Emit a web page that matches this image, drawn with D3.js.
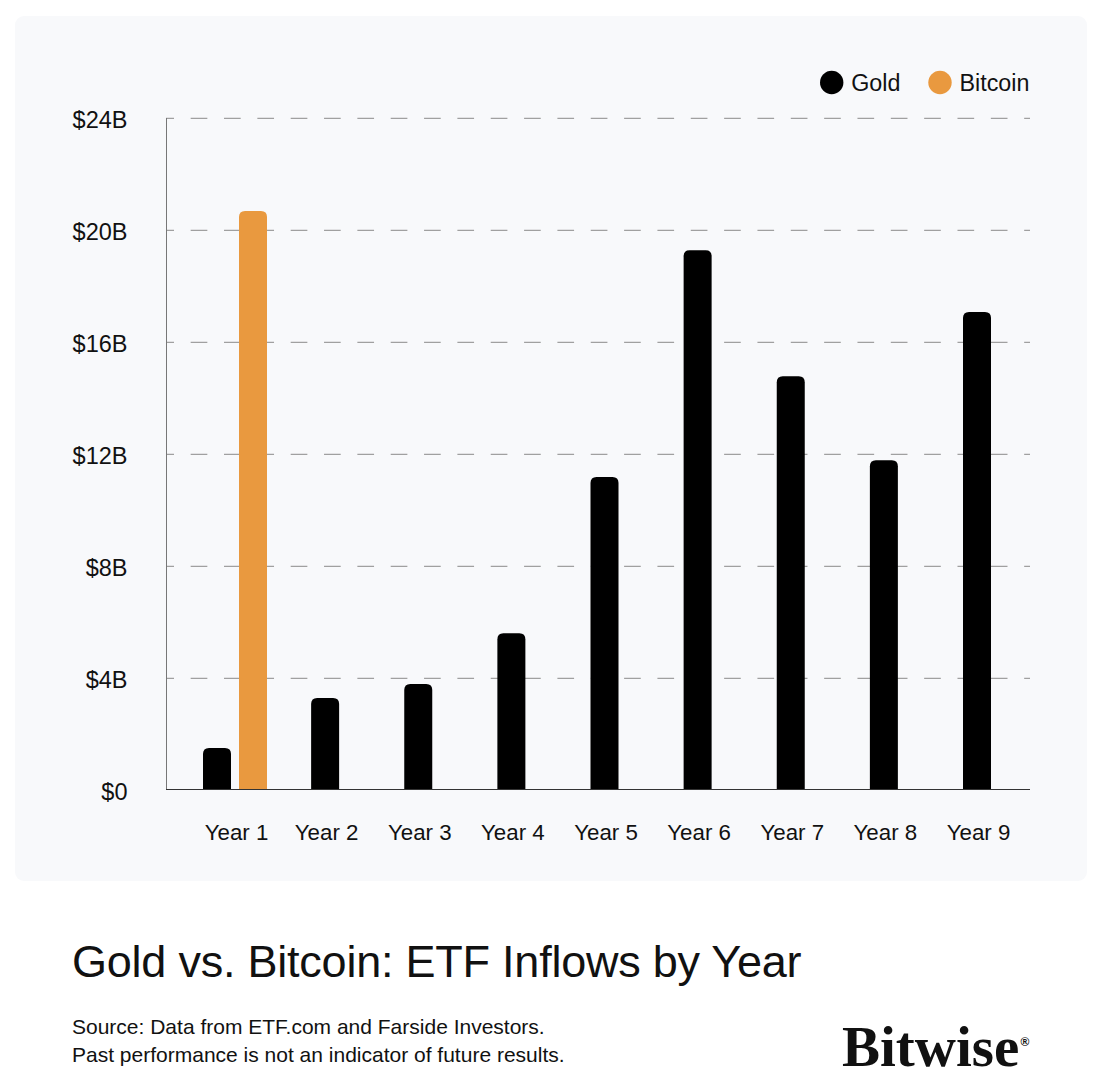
<!DOCTYPE html>
<html><head><meta charset="utf-8">
<script src="https://cdn.jsdelivr.net/npm/d3@7"></script>
<style>html,body{margin:0;padding:0;background:#fff}svg{display:block}text{font-family:"Liberation Sans",Arial,sans-serif;fill:#111}</style>
</head><body><svg id="c" width="1098" height="1086"></svg>
<script>
const categories=["Year 1","Year 2","Year 3","Year 4","Year 5","Year 6","Year 7","Year 8","Year 9"];
const goldValues=[1.5,3.29,3.79,5.6,11.18,19.28,14.78,11.78,17.07];
const bitcoinValues=[20.68,null,null,null,null,null,null,null,null];
const yTicks=[0,4,8,12,16,20,24];
const legendItems=["Gold","Bitcoin"];
const titleText="Gold vs. Bitcoin: ETF Inflows by Year";
const sourceLines=["Source: Data from ETF.com and Farside Investors.","Past performance is not an indicator of future results."];

const GOLD="#000",BTC="#E9993F",barW=28;
const svg=d3.select("#c");
svg.append("rect").attr("x",15).attr("y",16).attr("width",1072).attr("height",865).attr("rx",9).attr("fill","#F8F9FB");
const y=d3.scaleLinear().domain([0,24]).range([790,118]);
const x=d3.scalePoint().domain(categories).range([232,977]);
const x0=166,x1=1030;

// grid
svg.append("g").selectAll("line").data(yTicks.filter(d=>d>0)).join("line")
 .attr("x1",x0).attr("x2",x1).attr("y1",d=>y(d)+.3).attr("y2",d=>y(d)+.3)
 .attr("stroke","#A0A0A0").attr("stroke-width",1.2)
 .attr("stroke-dasharray","16.67 16.67").attr("stroke-dashoffset",8.67);

// y tick labels
svg.append("g").selectAll("text").data(yTicks).join("text")
 .attr("x",127.5).attr("y",d=>y(d)+9.5).attr("text-anchor","end").attr("font-size",23.5).text(d=>d===0?"$0":"$"+d+"B");

// bars: rounded top, square base
function barPath(cx,v){
 const t=y(v),b=y(0),l=cx-barW/2,r=cx+barW/2,k=6;
 return `M${l},${b}V${t+k}Q${l},${t} ${l+k},${t}H${r-k}Q${r},${t} ${r},${t+k}V${b}Z`;
}
const rows=categories.map((c,i)=>({c,g:goldValues[i],b:bitcoinValues[i]}));
const pairGap=18, pairNudge=3;
svg.append("g").selectAll("path.g").data(rows).join("path").attr("class","g").attr("fill",GOLD)
 .attr("d",d=>barPath(d.b!=null?x(d.c)+pairNudge-pairGap:x(d.c),d.g));
svg.append("g").selectAll("path.b").data(rows.filter(d=>d.b!=null)).join("path").attr("class","b").attr("fill",BTC)
 .attr("d",d=>barPath(x(d.c)+pairNudge+pairGap,d.b));

// axes lines
svg.append("line").attr("x1",x0+.5).attr("x2",x0+.5).attr("y1",118).attr("y2",790).attr("stroke","#777").attr("stroke-width",1);
svg.append("line").attr("x1",x0).attr("x2",x1).attr("y1",789.5).attr("y2",789.5).attr("stroke","#333").attr("stroke-width",1.2);

// x labels
svg.append("g").selectAll("text").data(rows).join("text")
 .attr("x",d=>x(d.c)+(d.b!=null?pairNudge:0)+1.5).attr("y",840).attr("text-anchor","middle").attr("font-size",22.3).text(d=>d.c);

// legend
const legX=[831.7,940];
const lg=svg.append("g").selectAll("g").data(legendItems).join("g");
lg.append("circle").attr("cx",(d,i)=>legX[i]).attr("cy",82.5).attr("r",11.7).attr("fill",(d,i)=>i?BTC:GOLD);
lg.append("text").attr("x",(d,i)=>legX[i]+19.5).attr("y",90.5).attr("font-size",23.3).text(d=>d);

// title & source
svg.append("text").attr("x",72).attr("y",977).attr("font-size",45).attr("letter-spacing",-0.23).text(titleText);
svg.append("g").selectAll("text").data(sourceLines).join("text").attr("x",72).attr("y",(d,i)=>1034+i*28).attr("font-size",21).text(d=>d);

// wordmark
svg.append("text").attr("x",842).attr("y",1066).attr("font-size",57).attr("font-weight",700).style("font-family","'Liberation Serif',serif").text("Bitwise");
svg.append("text").attr("x",1020.5).attr("y",1045.5).attr("font-size",12).attr("font-weight",700).text("®");
</script></body></html>
